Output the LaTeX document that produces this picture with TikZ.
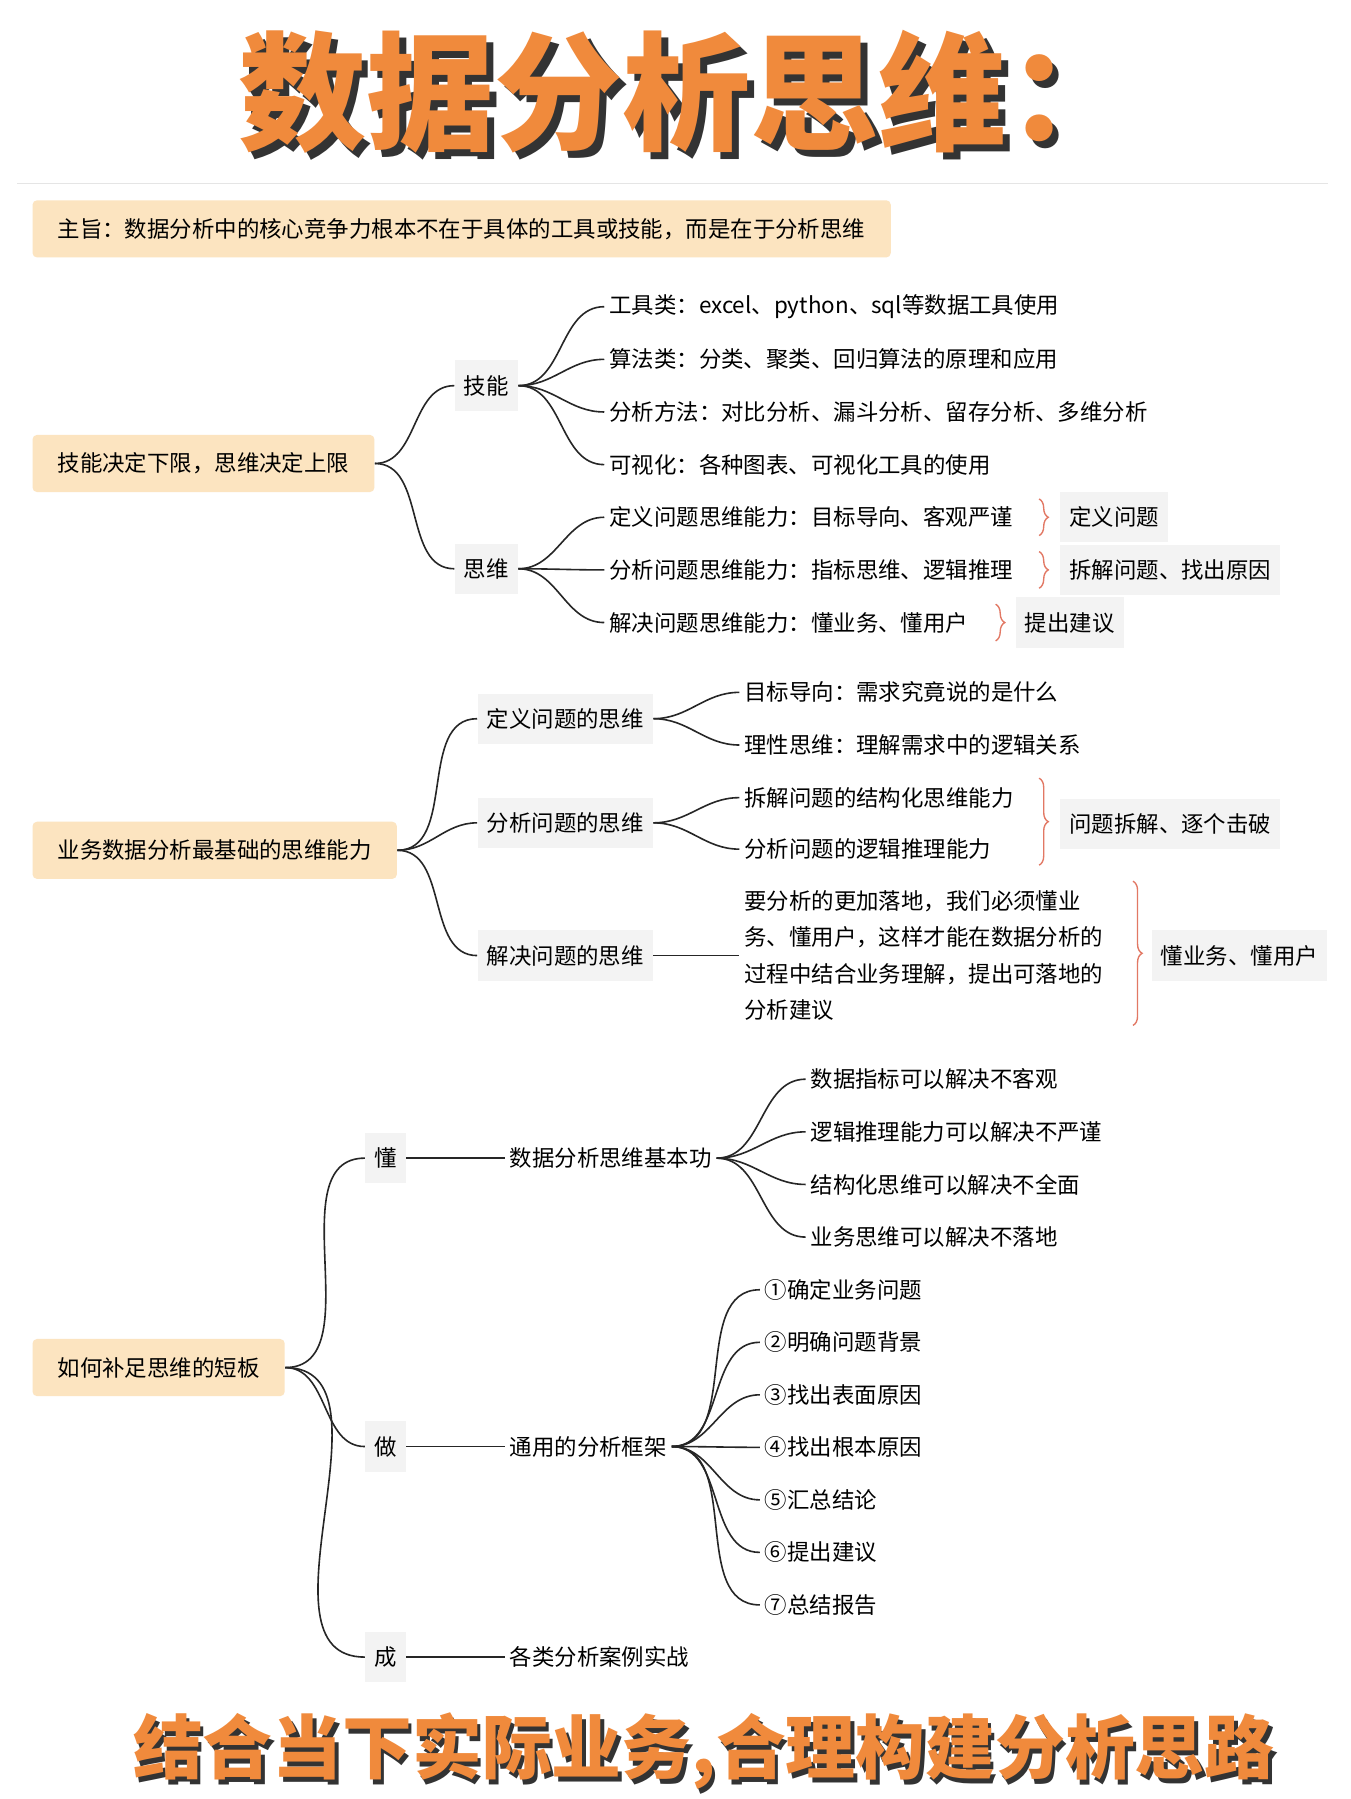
\documentclass[tikz,border=0pt]{standalone}
\usepackage{fontspec}
\setmainfont{Noto Sans CJK SC}
\XeTeXlinebreaklocale "zh"
\XeTeXlinebreakskip=0pt plus 1pt
\usetikzlibrary{positioning, decorations.pathreplacing}
\definecolor{corange}{RGB}{240,138,60}
\definecolor{croot}{RGB}{252,228,192}
\definecolor{cbox}{RGB}{243,243,243}
\definecolor{cbrace}{RGB}{226,120,100}
\tikzset{
x=0.5pt, y=-0.5pt,
Root/.style={
	fill=croot, rounded corners=2pt,
	inner xsep=11pt, minimum height=25pt,
	font=\fontsize{9.8}{11}\selectfont
},
Mid/.style={
	fill=cbox, inner xsep=4pt, minimum height=22pt,
	font=\fontsize{9.8}{11}\selectfont
},
Tag/.style={
	Mid
},
Leaf/.style={
	inner sep=2pt, anchor=west,
	font=\fontsize{9.8}{11}\selectfont
},
Link/.style={
	draw=black!85, line width=0.7pt
},
Brace/.style={
	draw=cbrace, line width=0.6pt,
	decorate, decoration={brace, amplitude=4pt}
},
Title/.style={
	font=\fontsize{56}{64}\selectfont\bfseries
},
Foot/.style={
	font=\fontsize{30.5}{34}\selectfont\bfseries
}
}
\begin{document}
\begin{tikzpicture}
	\useasboundingbox[fill=white] (0,0) rectangle (1180,1572);
	% title
	\node[Title, text=black!80] at (606,86) {数据分析思维：};
	\node[Title, text=corange] (title) at (600,80) {数据分析思维：};
	\draw[black!10] (15,160) -- (1160,160);
	\node[Root, anchor=west, text width=353pt, align=left] (aim) at (28,200) {主旨：数据分析中的核心竞争力根本不在于具体的工具或技能，而是在于分析思维};

	% section 1
	\node[Root, anchor=west] (s1) at (28,405) {技能决定下限，思维决定上限};
	\node[Mid] (skill) at (425,337) {技能};
	\node[Mid] (think) at (425,497) {思维};
	\draw[Link] (s1.east) to[out=0,in=180] (skill.west);
	\draw[Link] (s1.east) to[out=0,in=180] (think.west);
	\node[Leaf] (k1) at (528,268) {工具类：excel、python、sql等数据工具使用};
	\node[Leaf] (k2) at (528,314) {算法类：分类、聚类、回归算法的原理和应用};
	\node[Leaf] (k3) at (528,360) {分析方法：对比分析、漏斗分析、留存分析、多维分析};
	\node[Leaf] (k4) at (528,406) {可视化：各种图表、可视化工具的使用};
	\foreach \n in {k1,k2,k3,k4}
		\draw[Link] (skill.east) to[out=0,in=180] (\n.west);
	\node[Leaf] (t1) at (528,452) {定义问题思维能力：目标导向、客观严谨};
	\node[Leaf] (t2) at (528,498) {分析问题思维能力：指标思维、逻辑推理};
	\node[Leaf] (t3) at (528,544) {解决问题思维能力：懂业务、懂用户};
	\foreach \n in {t1,t2,t3}
		\draw[Link] (think.east) to[out=0,in=180] (\n.west);
	\draw[Brace] (908,436) -- (908,468);
	\draw[Brace] (908,482) -- (908,514);
	\draw[Brace] (870,528) -- (870,560);
	\node[Tag, anchor=west] (g1) at (926,452) {定义问题};
	\node[Tag, anchor=west] (g2) at (926,498) {拆解问题、找出原因};
	\node[Tag, anchor=west] (g3) at (887,544) {提出建议};

	% section 2
	\node[Root, anchor=west] (s2) at (28,743) {业务数据分析最基础的思维能力};
	\node[Mid] (def) at (494,628) {定义问题的思维};
	\node[Mid] (ana) at (494,719) {分析问题的思维};
	\node[Mid] (sol) at (494,835) {解决问题的思维};
	\foreach \n in {def,ana,sol}
		\draw[Link] (s2.east) to[out=0,in=180] (\n.west);
	\node[Leaf] (d1) at (646,605) {目标导向：需求究竟说的是什么};
	\node[Leaf] (d2) at (646,651) {理性思维：理解需求中的逻辑关系};
	\node[Leaf] (a1) at (646,697) {拆解问题的结构化思维能力};
	\node[Leaf] (a2) at (646,742) {分析问题的逻辑推理能力};
	\foreach \n in {d1,d2}
		\draw[Link] (def.east) to[out=0,in=180] (\n.west);
	\foreach \n in {a1,a2}
		\draw[Link] (ana.east) to[out=0,in=180] (\n.west);
	\node[Leaf, align=left, font=\fontsize{9.8}{15.8}\selectfont] (para) at (646,835)
		{要分析的更加落地，我们必须懂业\\务、懂用户，这样才能在数据分析的\\过程中结合业务理解，提出可落地的\\分析建议};
	\draw[Link] (sol.east) -- (para.west);
	\draw[Brace] (908,680) -- (908,756);
	\node[Tag, anchor=west] (g4) at (926,720) {问题拆解、逐个击破};
	\draw[Brace] (990,770) -- (990,896);
	\node[Tag, anchor=west] (g5) at (1006,835) {懂业务、懂用户};

	% section 3
	\node[Root, anchor=west] (s3) at (28,1195) {如何补足思维的短板};
	\node[Mid] (know) at (337,1012) {懂};
	\node[Mid] (do) at (337,1264) {做};
	\node[Mid] (done) at (337,1448) {成};
	\foreach \n in {know,do,done}
		\draw[Link] (s3.east) to[out=0,in=180] (\n.west);
	\node[Leaf] (base) at (441,1012) {数据分析思维基本功};
	\node[Leaf] (frame) at (441,1264) {通用的分析框架};
	\node[Leaf] (case) at (441,1448) {各类分析案例实战};
	\draw[Link] (know.east) -- (base.west);
	\draw[Link] (do.east) -- (frame.west);
	\draw[Link] (done.east) -- (case.west);
	\foreach \t [count=\i] in {数据指标可以解决不客观,逻辑推理能力可以解决不严谨,结构化思维可以解决不全面,业务思维可以解决不落地}{
		\node[Leaf] (b\i) at (704,943+46*\i-46) {\t};
		\draw[Link] (base.east) to[out=0,in=180] (b\i.west);
	}
	\foreach \t [count=\i] in {①确定业务问题,②明确问题背景,③找出表面原因,④找出根本原因,⑤汇总结论,⑥提出建议,⑦总结报告}{
		\node[Leaf] (f\i) at (664,1127+45.9*\i-45.9) {\t};
		\draw[Link] (frame.east) to[out=0,in=180] (f\i.west);
	}

	% footer
	\node[Foot, text=black!80] at (618,1534) {结合当下实际业务,合理构建分析思路};
	\node[Foot, text=corange] (foot) at (615,1530) {结合当下实际业务,合理构建分析思路};
\end{tikzpicture}
\end{document}
